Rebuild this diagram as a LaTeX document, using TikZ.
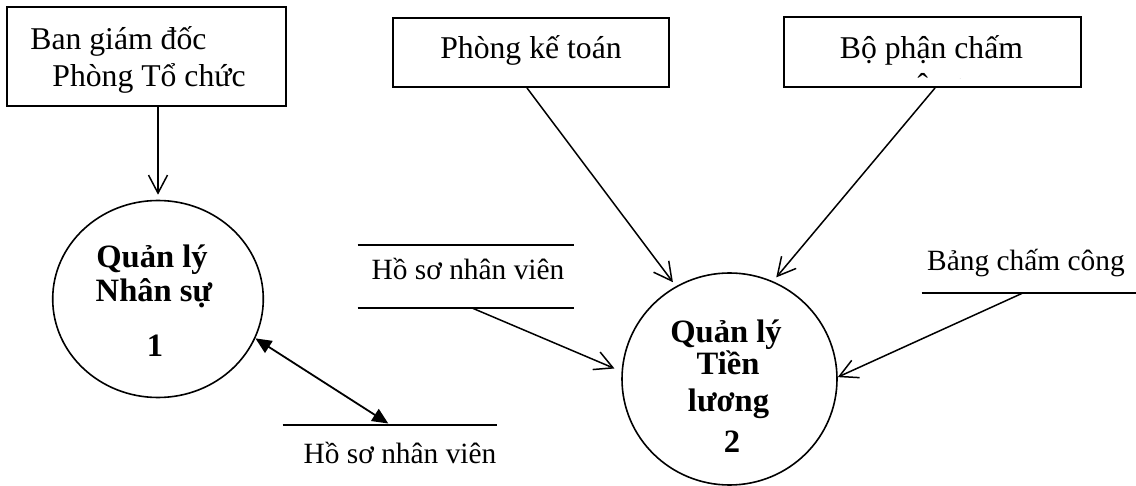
\documentclass[tikz,border=0pt]{standalone}
\usepackage{fontspec}
\setmainfont{Liberation Serif}
\usetikzlibrary{arrows.meta,shapes.geometric}
\begin{document}
\begin{tikzpicture}[x=0.5pt,y=-0.5pt,
  box/.style={draw,line width=1pt,rectangle,inner sep=0pt},
  proc/.style={draw,line width=0.8pt,ellipse,inner sep=0pt},
  store/.style={rectangle,inner sep=0pt},
  boxtext/.style={inner sep=0pt,anchor=base,font=\fontsize{15.85}{19}\selectfont},
  storetext/.style={inner sep=0pt,anchor=base,font=\fontsize{14.7}{18}\selectfont},
  proctext/.style={inner sep=0pt,anchor=base,font=\fontsize{16.3}{19}\selectfont\bfseries},
  flow/.style={line width=0.75pt,-{Straight Barb[length=9pt,width=9.5pt]}},
  twoway/.style={line width=0.9pt,{Triangle[length=8pt,width=7pt]}-{Triangle[length=8pt,width=7pt]}},
  sline/.style={line width=1pt}]
\useasboundingbox (0,0) rectangle (1136,486);

% external entities
\node[box,minimum width=139.5pt,minimum height=49.5pt] (b1) at (146.5,56.5) {};
\node[boxtext,anchor=base west] (b1a) at (30,50) {Ban giám đốc};
\node[boxtext,anchor=base west] (b1b) at (52,87) {Phòng Tổ chức};

\node[box,minimum width=138pt,minimum height=34.5pt] (b2) at (531,52.5) {};
\node[boxtext] (b2t) at (531,59) {Phòng kế toán};

\node[box,minimum width=148.5pt,minimum height=35pt] (b3) at (932.5,52) {};
\node[boxtext] (b3t) at (931.5,59) {Bộ phận chấm};
\begin{scope}
  \clip (786,19) rectangle (1079,79);
  \node[boxtext] (b3u) at (931.5,96) {công};
\end{scope}

% processes
\node[proc,minimum width=105.3pt,minimum height=98.5pt] (c1) at (158,299) {};
\node[proctext] (c1a) at (152,268) {Quản lý};
\node[proctext] (c1b) at (154,302) {Nhân sự};
\node[proctext] (c1c) at (155,357) {1};

\node[proc,minimum width=107.5pt,minimum height=106pt] (c2) at (729.5,379) {};
\node[proctext] (c2a) at (726,343) {Quản lý};
\node[proctext] (c2b) at (728,375) {Tiền};
\node[proctext] (c2c) at (728.5,412) {lương};
\node[proctext] (c2d) at (732,452) {2};

% data stores
\node[store,minimum width=108pt,minimum height=31.5pt] (s1) at (466,276.5) {};
\draw[sline] (s1.north west) -- (s1.north east);
\draw[sline] (s1.south west) -- (s1.south east);
\node[storetext] (s1t) at (468,280) {Hồ sơ nhân viên};

\node[store,minimum width=107pt,minimum height=24pt] (s2) at (1029,269) {};
\draw[sline] (s2.south west) -- (s2.south east);
\node[storetext] (s2t) at (1026,271) {Bảng chấm công};

\node[store,minimum width=107pt,minimum height=25pt] (s3) at (390,450) {};
\draw[sline] (s3.north west) -- (s3.north east);
\node[storetext] (s3t) at (400,463) {Hồ sơ nhân viên};

% flows
\draw[flow,shorten >=2.5pt] (c1.north |- b1.south) -- (c1.north);
\draw[flow,shorten >=2.5pt] ([xshift=-2pt]b2.south) -- (c2.120);
\draw[flow,shorten >=2.5pt] ([xshift=1.25pt]b3.south) -- (c2.66);
\draw[flow,shorten >=3.8pt] ([xshift=3.5pt]s1.south) -- (c2.176);
\draw[flow] ([xshift=-3.5pt]s2.south) -- (c2.1);
\draw[twoway,shorten >=1pt] (c1.-22) -- (s3.north);
\end{tikzpicture}
\end{document}
